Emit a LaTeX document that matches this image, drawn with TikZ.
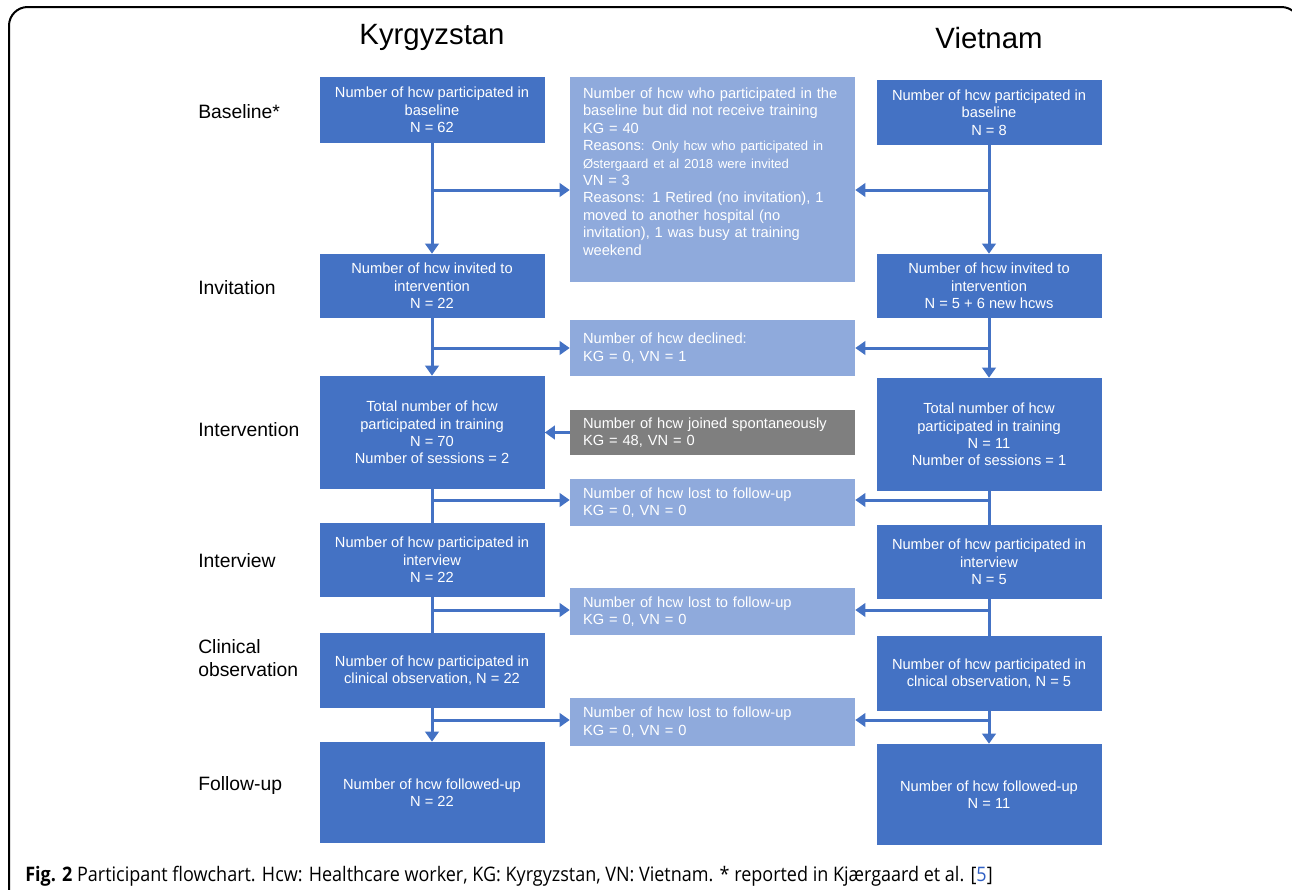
\documentclass[tikz,border=0pt]{standalone}
\usepackage{fontspec}
\setmainfont{Liberation Sans}
\newfontfamily\capfont[FakeStretch=0.9]{Open Sans}
\usetikzlibrary{arrows.meta}
\definecolor{boxblue}{HTML}{4472C4}
\definecolor{boxlight}{HTML}{8FAADC}
\definecolor{boxgray}{HTML}{7F7F7F}
\definecolor{refblue}{HTML}{2F5FC4}
\tikzset{
  mainbox/.style={fill=boxblue, text=white, minimum width=168.75pt, inner sep=0pt, align=center, font=\fontsize{11}{13.1}\selectfont},
  sidebox/.style={fill=boxlight, text=white, text width=194.25pt, inner xsep=9.75pt, inner ysep=0pt, align=left, font=\fontsize{11}{13.1}\selectfont},
  greybox/.style={sidebox, fill=boxgray},
  stage/.style={anchor=west, align=left, inner sep=0pt, font=\fontsize{14.5}{17.2}\selectfont},
  country/.style={inner sep=0pt, font=\fontsize{22}{26}\selectfont},
  flow/.style={draw=boxblue, line width=2.25pt},
  flowarrow/.style={flow, -{Triangle[length=7.5pt,width=10pt]}}
}
\begin{document}
\begin{tikzpicture}[x=0.75pt,y=-0.75pt]
\useasboundingbox (0,0) rectangle (1292,889);
% frame
\draw[line width=1.5pt, rounded corners=14pt] (9,900) -- (9,7) -- (1300,7) -- (1300,900);
% headings
\node[country] (kg) at (432,37) {Kyrgyzstan};
\node[country] (vn) at (989,38) {Vietnam};
% stages
\node[stage] (s1) at (198,112) {Baseline*};
\node[stage] (s2) at (198,288) {Invitation};
\node[stage] (s3) at (198,430) {Intervention};
\node[stage] (s4) at (198,561) {Interview};
\node[stage] (s5) at (198,658) {Clinical\\observation};
\node[stage] (s6) at (198,785) {Follow-up};
% Kyrgyzstan column
\node[mainbox, minimum height=49.5pt] (kb) at (432,110) {Number of hcw participated in\\baseline\\N = 62};
\node[mainbox, minimum height=48pt] (ki) at (432,286) {Number of hcw invited to\\intervention\\N = 22};
\node[mainbox, minimum height=84.75pt] (kt) at (432,432.5) {Total number of hcw\\participated in training\\N = 70\\Number of sessions = 2};
\node[mainbox, minimum height=55.5pt] (kv) at (432,560) {Number of hcw participated in\\interview\\N = 22};
\node[mainbox, minimum height=56.25pt] (kc) at (432,670.5) {Number of hcw participated in\\clinical observation, N = 22};
\node[mainbox, minimum height=75.75pt] (kf) at (432,792.5) {Number of hcw followed-up\\N = 22};
% Vietnam column
\node[mainbox, minimum height=48.75pt] (vb) at (989,112.5) {Number of hcw participated in\\baseline\\N = 8};
\node[mainbox, minimum height=48pt] (vi) at (989,286) {Number of hcw invited to\\intervention\\N = 5 + 6 new hcws};
\node[mainbox, minimum height=84.75pt] (vt) at (989,434.5) {Total number of hcw\\participated in training\\N = 11\\Number of sessions = 1};
\node[mainbox, minimum height=55.5pt] (vv) at (989,562) {Number of hcw participated in\\interview\\N = 5};
\node[mainbox, minimum height=56.25pt] (vc) at (989,673.5) {Number of hcw participated in\\clnical observation, N = 5};
\node[mainbox, minimum height=75.75pt] (vf) at (989,794.5) {Number of hcw followed-up\\N = 11};
% middle column
\node[sidebox, minimum height=153.75pt] (mb) at (712.5,179.5) {Number of hcw who participated in the\\baseline but did not receive training\\
KG = 40\\
Reasons{\fontsize{9.8}{13.1}\selectfont: Only hcw who participated in\\Østergaard et al 2018 were invited}\\
VN = 3\\
Reasons: 1 Retired (no invitation), 1\\moved to another hospital (no\\invitation), 1 was busy at training\\weekend\par\vspace*{12pt}};
\node[sidebox, minimum height=42pt] (md) at (712.5,348) {Number of hcw declined:\\KG = 0, VN = 1};
\node[greybox, minimum height=33.75pt] (mj) at (712.5,432.5) {Number of hcw joined spontaneously\\KG = 48, VN = 0};
\node[sidebox, minimum height=35.25pt] (ml1) at (712.5,502.5) {Number of hcw lost to follow-up\\KG = 0, VN = 0};
\node[sidebox, minimum height=35.25pt] (ml2) at (712.5,611.5) {Number of hcw lost to follow-up\\KG = 0, VN = 0};
\node[sidebox, minimum height=36pt] (ml3) at (712.5,722) {Number of hcw lost to follow-up\\KG = 0, VN = 0};
% branch points
\coordinate (kj1) at (432,190);
\coordinate (vj1) at (989,190);
\coordinate (kj2) at (432,348);
\coordinate (vj2) at (989,348);
\coordinate (kj3) at (432,500);
\coordinate (vj3) at (989,500);
\coordinate (kj4) at (432,610);
\coordinate (vj4) at (989,610);
\coordinate (kj5) at (432,720);
\coordinate (vj5) at (989,720);
% vertical flow
\draw[flowarrow] (kb) -- (ki);
\draw[flowarrow] (ki) -- (kt);
\draw[flow] (kt) -- (kv);
\draw[flow] (kv) -- (kc);
\draw[flowarrow] (kc) -- (kf);
\draw[flowarrow] (vb) -- (vi);
\draw[flowarrow] (vi) -- (vt);
\draw[flow] (vt) -- (vv);
\draw[flow] (vv) -- (vc);
\draw[flowarrow] (vc) -- (vf);
% side branches
\draw[flowarrow] (kj1) -- (kj1 -| mb.west);
\draw[flowarrow] (vj1) -- (vj1 -| mb.east);
\draw[flowarrow] (kj2) -- (kj2 -| md.west);
\draw[flowarrow] (vj2) -- (vj2 -| md.east);
\draw[flowarrow] (mj.west) -- (mj.west -| kt.east);
\draw[flowarrow] (kj3) -- (kj3 -| ml1.west);
\draw[flowarrow] (vj3) -- (vj3 -| ml1.east);
\draw[flowarrow] (kj4) -- (kj4 -| ml2.west);
\draw[flowarrow] (vj4) -- (vj4 -| ml2.east);
\draw[flowarrow] (kj5) -- (kj5 -| ml3.west);
\draw[flowarrow] (vj5) -- (vj5 -| ml3.east);
% caption
\node[anchor=base west, inner sep=0pt, font=\capfont\fontsize{15}{18}\selectfont] (cap) at (25,881)
  {\textbf{Fig. 2} Participant flowchart. Hcw: Healthcare worker, KG: Kyrgyzstan, VN: Vietnam. * reported in Kjærgaard et al. [\textcolor{refblue}{5}]};
\end{tikzpicture}
\end{document}
